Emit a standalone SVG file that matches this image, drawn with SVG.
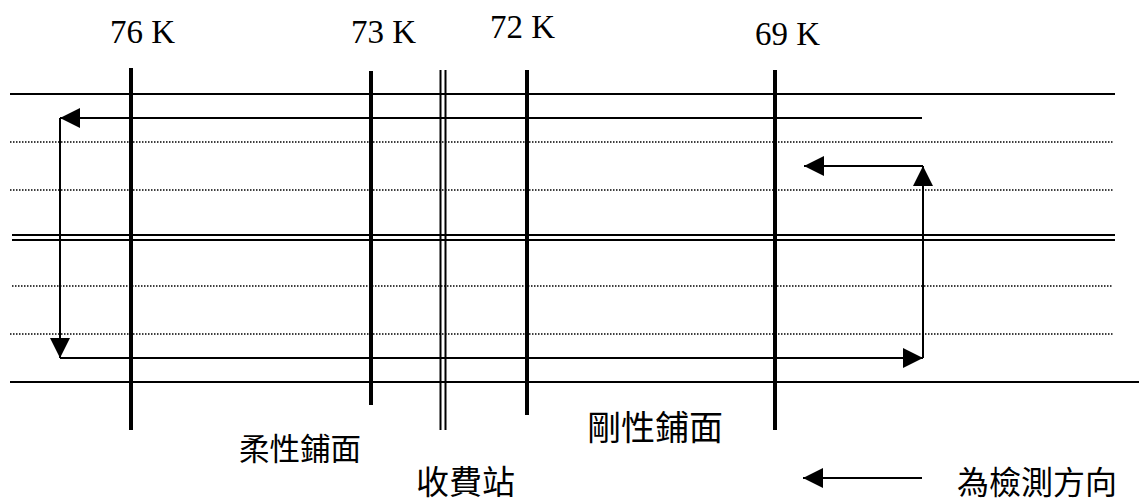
<svg xmlns="http://www.w3.org/2000/svg" width="1139" height="503" viewBox="0 0 1139 503">
<style>
.h{stroke:#000;stroke-width:2;fill:none}
.d{stroke:#000;stroke-width:1.5;stroke-dasharray:1.5 1.5;fill:none}
.v{stroke:#000;stroke-width:4;fill:none}
.vt{stroke:#000;stroke-width:2;fill:none}
.a{stroke:#000;stroke-width:2;fill:none;marker-end:url(#ah)}
.k{font-family:"Liberation Serif","Times New Roman",serif;font-size:33px;fill:#000}
.c{font-family:"Noto Sans CJK TC","Noto Sans CJK SC",sans-serif;fill:#000}
</style>
<defs>
<marker id="ah" markerUnits="userSpaceOnUse" markerWidth="20" markerHeight="20" refX="20" refY="10" orient="auto">
<path d="M0,0 L20,10 L0,20 z" fill="#000"/>
</marker>
</defs>
<rect width="1139" height="503" fill="#fff"/>
<g id="lanes">
<line class="h" x1="10" y1="94" x2="1115" y2="94"/>
<line class="d" x1="10" y1="142" x2="1113" y2="142"/>
<line class="d" x1="10" y1="190" x2="1113" y2="190"/>
<line class="h" x1="12" y1="235" x2="1115" y2="235"/>
<line class="h" x1="12" y1="240" x2="1115" y2="240"/>
<line class="d" x1="12" y1="286" x2="1113" y2="286"/>
<line class="d" x1="10" y1="334" x2="1113" y2="334"/>
<line class="h" x1="10" y1="382" x2="1139" y2="382"/>
</g>
<g id="k76"><line class="v" x1="131" y1="68" x2="131" y2="430"/><text class="k" x="110" y="43">76 K</text></g>
<g id="k73"><line class="v" x1="371" y1="71" x2="371" y2="405"/><text class="k" x="351" y="43">73 K</text></g>
<g id="toll"><line class="vt" x1="440.5" y1="70" x2="440.5" y2="430"/><line class="vt" x1="445.5" y1="70" x2="445.5" y2="430"/><text class="c" x="416" y="494" font-size="33">收費站</text></g>
<g id="k72"><line class="v" x1="527" y1="70" x2="527" y2="415"/><text class="k" x="490" y="38">72 K</text></g>
<g id="k69"><line class="v" x1="775" y1="70" x2="775" y2="430"/><text class="k" x="755" y="45">69 K</text></g>
<g id="flex"><text class="c" x="239" y="460" font-size="30.5">柔性鋪面</text></g>
<g id="rigid"><text class="c" x="587" y="440" font-size="34">剛性鋪面</text></g>
<g id="connectors">
<line class="a" x1="922" y1="118" x2="60" y2="118"/>
<line class="a" x1="60" y1="118" x2="60" y2="358"/>
<line class="a" x1="60" y1="358" x2="923" y2="358"/>
<line class="a" x1="923" y1="358" x2="923" y2="166"/>
<line class="a" x1="923" y1="166" x2="804" y2="166"/>
</g>
<g id="legend">
<line class="a" x1="922" y1="478" x2="803" y2="478"/>
<text class="c" x="957" y="494" font-size="32">為檢測方向</text>
</g>
</svg>
